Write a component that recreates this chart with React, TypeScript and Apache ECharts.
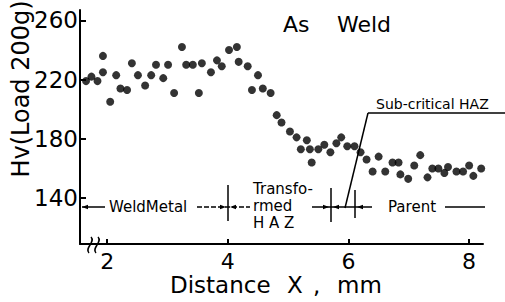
import React, { useEffect, useRef } from "react";
import * as echarts from "echarts";

const distance = [
  1.65, 1.74, 1.84, 1.93, 1.93, 2.05, 2.15, 2.22, 2.33, 2.41,
  2.51, 2.63, 2.73, 2.81, 2.93, 3.01, 3.11, 3.24, 3.31, 3.42,
  3.52, 3.57, 3.72, 3.82, 3.9, 4.02, 4.15, 4.18, 4.33, 4.4,
  4.5, 4.58, 4.71, 4.81, 4.89, 5.03, 5.14, 5.21, 5.31, 5.36,
  5.39, 5.5, 5.6, 5.7, 5.8, 5.88, 5.98, 6.1, 6.2, 6.3,
  6.4, 6.5, 6.61, 6.73, 6.83, 6.86, 6.99, 7.09, 7.19, 7.31,
  7.39, 7.49, 7.59, 7.65, 7.79, 7.9, 8.0, 8.07, 8.2,
];
const hardness = [
  219, 222, 219, 236, 225, 205, 223, 214, 213, 231,
  223, 216, 223, 230, 221, 230, 211, 242, 230, 230,
  211, 231, 225, 233, 229, 240, 242, 232, 229, 213,
  223, 214, 211, 196, 191, 185, 181, 173, 179, 173,
  164, 173, 176, 171, 177, 181, 175, 175, 171, 166,
  158, 168, 158, 164, 164, 156, 153, 162, 169, 154,
  160, 160, 157, 161, 158, 158, 162, 155, 160,
];
const xTicks = [2, 4, 6, 8];
const yTicks = [140, 180, 220, 260];

const FONT = "DejaVu Sans";

export default function App() {
  const ref = useRef<HTMLDivElement>(null);
  useEffect(() => {
    const chart = echarts.init(ref.current!, null, { renderer: "svg" });
    const black = "#000";
    const ln = (x1: number, y1: number, x2: number, y2: number, w = 1.5, dash?: number[]) => ({
      type: "line",
      shape: { x1, y1, x2, y2 },
      style: { stroke: black, lineWidth: w, lineDash: dash },
      silent: true,
    });
    const head = (x: number, y: number, dir: number) => ({
      type: "polygon",
      shape: { points: [[x, y], [x - dir * 6, y - 2.2], [x - dir * 6, y + 2.2]] },
      style: { fill: black },
      silent: true,
    });
    const txt = (x: number, y: number, text: string, size: number, extra: any = {}, rotation = 0) => ({
      type: "text",
      x,
      y,
      rotation,
      style: {
        text,
        fill: black,
        fontSize: size,
        fontFamily: FONT,
        textAlign: "left",
        textVerticalAlign: "middle",
        ...extra,
      },
      silent: true,
    });
    const rowY = 207;
    chart.setOption({
      animation: false,
      backgroundColor: "#fff",
      grid: { left: 80, right: 22, top: 10, bottom: 58 },
      xAxis: {
        type: "value",
        min: 1.55,
        max: 8.23,
        axisLine: { show: true, lineStyle: { color: black, width: 2 } },
        axisTick: { show: true, inside: true, length: 5, customValues: xTicks, lineStyle: { color: black, width: 2 } },
        axisLabel: { customValues: xTicks, color: black, fontSize: 22, lineHeight: 16, fontFamily: FONT, margin: 9 },
        splitLine: { show: false },
      },
      yAxis: {
        type: "value",
        min: 109,
        max: 267,
        axisLine: { show: true, lineStyle: { color: black, width: 2 } },
        axisTick: { show: true, inside: true, length: 6, customValues: yTicks, lineStyle: { color: black, width: 2 } },
        axisLabel: { customValues: yTicks, color: black, fontSize: 23, fontFamily: FONT, margin: 2 },
        splitLine: { show: false },
      },
      series: [
        {
          type: "scatter",
          data: distance.map((x, i) => [x, hardness[i]]),
          symbol: "circle",
          symbolSize: 8,
          itemStyle: { color: black },
        },
      ],
      graphic: [
        txt(21, 89, "Hv(Load 200g)", 24, { textAlign: "center" }, Math.PI / 2),
        txt(170, 285, "Distance", 23, { lineHeight: 17 }),
        txt(287, 285, "X", 23, { lineHeight: 17 }),
        txt(313, 285, ",", 23, { lineHeight: 17 }),
        txt(337, 285, "mm", 23, { lineHeight: 17 }),
        txt(283, 24, "As", 22),
        txt(337, 24, "Weld", 22),
        // axis break
        {
          type: "bezierCurve",
          shape: { x1: 91, y1: 237, x2: 89, y2: 253, cpx1: 96, cpy1: 242, cpx2: 84, cpy2: 248 },
          style: { stroke: black, lineWidth: 1.5, fill: "none" },
          silent: true,
        },
        {
          type: "bezierCurve",
          shape: { x1: 98, y1: 237, x2: 96, y2: 253, cpx1: 103, cpy1: 242, cpx2: 91, cpy2: 248 },
          style: { stroke: black, lineWidth: 1.5, fill: "none" },
          silent: true,
        },
        // weld metal row
        ln(82, rowY, 105, rowY),
        head(82, rowY, -1),
        txt(109, rowY, "WeldMetal", 15),
        ln(197, rowY, 250, rowY, 1.5, [5, 2]),
        head(226, rowY, 1),
        head(230, rowY, -1),
        ln(228, 185, 228, 221, 1.5),
        txt(253, 189, "Transfo-", 15),
        txt(253, 206, "rmed", 15),
        txt(253, 223, "H A Z", 15),
        ln(312, rowY, 372, rowY),
        head(329, rowY, 1),
        head(333, rowY, -1),
        head(357, rowY, -1),
        ln(331, 188, 331, 222),
        ln(355, 190, 355, 218),
        ln(345, 208, 368, 113),
        ln(368, 113, 505, 113),
        txt(376, 104, "Sub-critical HAZ", 14),
        txt(388, rowY, "Parent", 15),
        ln(445, rowY, 485, rowY),
      ],
    });
    return () => chart.dispose();
  }, []);
  return (
    <div
      ref={ref}
      style={{ position: "fixed", left: 0, top: 0, width: 505, height: 302, background: "#fff" }}
    />
  );
}
